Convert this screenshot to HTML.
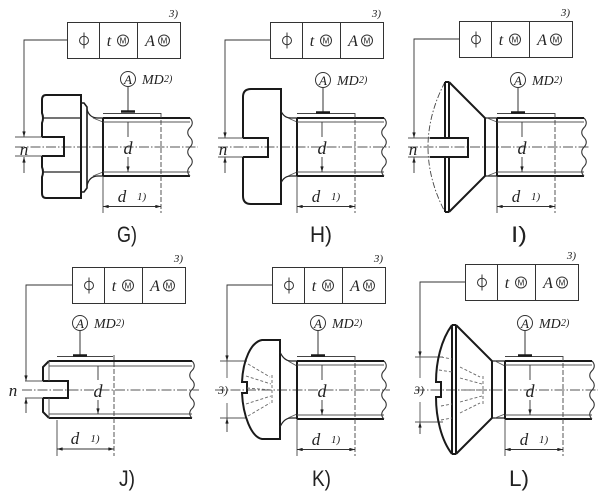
<!DOCTYPE html>
<html><head><meta charset="utf-8"><style>html,body{margin:0;padding:0;background:#fff}svg{display:block}</style></head>
<body>
<svg width="600" height="493" viewBox="0 0 600 493" xmlns="http://www.w3.org/2000/svg" xmlns:xlink="http://www.w3.org/1999/xlink">
<defs>
<marker id="a" viewBox="0 0 10 6" refX="10" refY="3" markerWidth="6" markerHeight="3.4" markerUnits="userSpaceOnUse" orient="auto-start-reverse"><path d="M0,0L10,3L0,6z" fill="#222"/></marker>
<g id="fr">
 <g fill="none" stroke="#333" stroke-width="1">
 <rect x="0.5" y="0.5" width="113" height="36"/>
 <path d="M32.5,0.5V36.5M70.5,0.5V36.5"/>
 <ellipse cx="17" cy="18.5" rx="4.5" ry="4.2"/>
 <path d="M17,10.5V26.5"/>
 <circle cx="56" cy="18.5" r="5.5"/>
 <circle cx="97" cy="18.5" r="5.5"/>
 </g>
 <g fill="#222" font-family="Liberation Serif, serif" font-style="italic" text-anchor="middle">
 <text x="42" y="24" font-size="16">t</text>
 <text x="83" y="24" font-size="16">A</text>
 <text x="111" y="-5" font-size="11" text-anchor="end">3)</text>
 </g>
 <g fill="#222" font-family="Liberation Sans, sans-serif" font-size="8" text-anchor="middle">
 <text x="56" y="21.5">M</text>
 <text x="97" y="21.5">M</text>
 </g>
</g>
<g id="dt">
 <circle cx="0" cy="0" r="7.5" fill="none" stroke="#333" stroke-width="1"/>
 <path d="M0,7.5V32" stroke="#333" stroke-width="1"/>
 <path d="M-7,32.5H7" stroke="#1a1a1a" stroke-width="2.5"/>
 <g fill="#222" font-family="Liberation Serif, serif" font-style="italic">
 <text x="0" y="4.8" font-size="13" text-anchor="middle">A</text>
 <text x="14" y="5" font-size="14">MD</text>
 <text x="36" y="3" font-size="10">2)</text>
 </g>
</g>
<g id="sh">
 <path d="M0,-29H87M0,29H87M0,-29V29" stroke="#1a1a1a" stroke-width="2" fill="none"/>
 <path d="M0,-25H87M0,25H87" stroke="#555" stroke-width="0.9" fill="none"/>
 <path d="M87,-29c3,3 3,6.7 0,9.7c-3,3 -3,6.7 0,9.7c3,3 3,6.7 0,9.7c-3,3 -3,6.7 0,9.7c3,3 3,6.7 0,9.7c-3,3 -3,6.7 0,9.5" stroke="#333" stroke-width="1.1" fill="none"/>
 <path d="M58,-34V66" stroke="#444" stroke-width="0.9" stroke-dasharray="5,2" fill="none"/>
 <path d="M0,29V66M0,-33.5H58" stroke="#444" stroke-width="0.9" fill="none"/>
 <path d="M25,-10V-25M25,10V25" stroke="#333" stroke-width="0.9" marker-end="url(#a)" fill="none"/>
 <path d="M0,59.5H58" stroke="#333" stroke-width="0.9" marker-start="url(#a)" marker-end="url(#a)" fill="none"/>
 <g fill="#222" font-family="Liberation Serif, serif" font-style="italic">
 <text x="25" y="7" font-size="18" text-anchor="middle">d</text>
 <text x="19" y="55" font-size="17" text-anchor="middle">d</text>
 <text x="34" y="53" font-size="11">1)</text>
 </g>
</g>
</defs>

<g fill="none" stroke-linecap="butt">
<!-- ============ G ============ -->
<use xlink:href="#fr" x="67" y="22"/>
<path d="M67,40H24V137" stroke="#333" stroke-width="0.9" marker-end="url(#a)"/>
<path d="M24,173V157" stroke="#333" stroke-width="0.9" marker-end="url(#a)"/>
<path d="M15,137H42M15,156H42" stroke="#555" stroke-width="0.9"/>
<path d="M15,147H198" stroke="#555" stroke-width="0.9" stroke-dasharray="10,2,1.5,2"/>
<path d="M42,137V123Q44,118 42,113V100Q42,95 46,95H81V198H46Q42,198 42,193V177Q44,172 42,167V156M42,137H64V156H42" stroke="#1a1a1a" stroke-width="2"/>
<path d="M42,118H81M42,172H81" stroke="#222" stroke-width="1.3"/>
<path d="M81,103H84L87,107V188L84,192H81" stroke="#1a1a1a" stroke-width="1.6"/>
<path d="M87,109Q89,118 98,118H103M87,186Q89,176 98,176H103" stroke="#222" stroke-width="1.2"/>
<path d="M93,118L103,122M93,176L103,172" stroke="#555" stroke-width="0.9"/>
<use xlink:href="#sh" x="103" y="147"/>
<use xlink:href="#dt" x="128" y="79"/>

<!-- ============ H ============ -->
<use xlink:href="#fr" x="270" y="22"/>
<path d="M270,40H225V138" stroke="#333" stroke-width="0.9" marker-end="url(#a)"/>
<path d="M225,173V157" stroke="#333" stroke-width="0.9" marker-end="url(#a)"/>
<path d="M218,138H243M218,157H243" stroke="#555" stroke-width="0.9"/>
<path d="M218,147H390" stroke="#555" stroke-width="0.9" stroke-dasharray="10,2,1.5,2"/>
<path d="M243,138V97Q243,89 251,89H281V204H251Q243,204 243,196V157M243,138H268V157H243" stroke="#1a1a1a" stroke-width="2"/>
<path d="M281,111Q284,118 291,118H297M281,183Q284,176 291,176H297" stroke="#222" stroke-width="1.2"/>
<path d="M288,118L297,122M288,176L297,172" stroke="#555" stroke-width="0.9"/>
<use xlink:href="#sh" x="297" y="147"/>
<use xlink:href="#dt" x="323" y="80"/>

<!-- ============ I ============ -->
<use xlink:href="#fr" x="459" y="21"/>
<path d="M459,39H414V138" stroke="#333" stroke-width="0.9" marker-end="url(#a)"/>
<path d="M414,173V157" stroke="#333" stroke-width="0.9" marker-end="url(#a)"/>
<path d="M408,138H430M408,157H430" stroke="#555" stroke-width="0.9"/>
<path d="M408,147H590" stroke="#555" stroke-width="0.9" stroke-dasharray="10,2,1.5,2"/>
<path d="M445,82Q411,147 445,212" stroke="#444" stroke-width="0.9" stroke-dasharray="6,2,1.5,2"/>
<path d="M445,82V138M445,157V212M449,82V138M449,157V212M445,82H449M445,212H449" stroke="#1a1a1a" stroke-width="2"/>
<path d="M449,82L485,118V176L449,212" stroke="#1a1a1a" stroke-width="2"/>
<path d="M430,138H468V157H430" stroke="#1a1a1a" stroke-width="2"/>
<path d="M485,118H497M485,176H497" stroke="#222" stroke-width="1.3"/>
<path d="M487,118L497,122M487,176L497,172" stroke="#555" stroke-width="0.9"/>
<use xlink:href="#sh" x="497" y="147"/>
<use xlink:href="#dt" x="518" y="80"/>

<!-- ============ J ============ -->
<use xlink:href="#fr" x="72" y="267"/>
<path d="M72,285H26V381" stroke="#333" stroke-width="0.9" marker-end="url(#a)"/>
<path d="M26,413V398" stroke="#333" stroke-width="0.9" marker-end="url(#a)"/>
<path d="M25,381H43M25,398H43" stroke="#555" stroke-width="0.9"/>
<path d="M22,390H199" stroke="#555" stroke-width="0.9" stroke-dasharray="10,2,1.5,2"/>
<path d="M49,361H192M49,418H192M43,381V367L49,361M43,398V412L49,418M43,381H68V398H43" stroke="#1a1a1a" stroke-width="2"/>
<path d="M49,366H192M49,414H192M49,361V381M49,398V418" stroke="#555" stroke-width="0.9"/>
<path d="M192,361c3,3 3,6.7 0,9.5c-3,3 -3,6.7 0,9.5c3,3 3,6.7 0,9.5c-3,3 -3,6.7 0,9.5c3,3 3,6.7 0,9.5c-3,3 -3,6.7 0,9.5" stroke="#333" stroke-width="1.1"/>
<path d="M114,355V456" stroke="#444" stroke-width="0.9" stroke-dasharray="5,2"/>
<path d="M57,420V456M57,356.5H113" stroke="#444" stroke-width="0.9"/>
<path d="M98,380V366M98,400V414" stroke="#333" stroke-width="0.9" marker-end="url(#a)"/>
<path d="M57,449H114" stroke="#333" stroke-width="0.9" marker-start="url(#a)" marker-end="url(#a)"/>
<use xlink:href="#dt" x="80" y="323"/>

<!-- ============ K ============ -->
<use xlink:href="#fr" x="272" y="267"/>
<path d="M272,285H227V361" stroke="#333" stroke-width="0.9" marker-end="url(#a)"/>
<path d="M227,432V418" stroke="#333" stroke-width="0.9" marker-end="url(#a)"/>
<path d="M227,361V378M227,403V418M220,361H247M220,418H247" stroke="#555" stroke-width="0.9"/>
<path d="M215,390H390" stroke="#555" stroke-width="0.9" stroke-dasharray="10,2,1.5,2"/>
<path d="M280,340H262C251,342 243,360 242,382H247V393H242C243,415 251,437 262,439H280Z" stroke="#1a1a1a" stroke-width="2"/>
<path d="M248,364L270,377M246,376L271,384M247,388L272,390M246,404L271,396M248,416L270,403M272,375V405" stroke="#666" stroke-width="0.9" stroke-dasharray="3,2"/>
<path d="M280,352Q284,361 291,361H297M280,427Q284,418 291,418H297" stroke="#222" stroke-width="1.2"/>
<path d="M288,361L297,366M288,418L297,414" stroke="#555" stroke-width="0.9"/>
<use xlink:href="#sh" x="297" y="390"/>
<use xlink:href="#dt" x="318" y="323"/>

<!-- ============ L ============ -->
<use xlink:href="#fr" x="465" y="264"/>
<path d="M465,282H420V357" stroke="#333" stroke-width="0.9" marker-end="url(#a)"/>
<path d="M420,434V422" stroke="#333" stroke-width="0.9" marker-end="url(#a)"/>
<path d="M420,357V378M420,402V422M415,357H443M415,422H443" stroke="#555" stroke-width="0.9"/>
<path d="M415,390H598" stroke="#555" stroke-width="0.9" stroke-dasharray="10,2,1.5,2"/>
<path d="M452,325V454M456,325V454M452,325H456M452,454H456" stroke="#1a1a1a" stroke-width="2"/>
<path d="M456,325L492,361V418L456,454" stroke="#1a1a1a" stroke-width="2"/>
<path d="M452,325C441,340 436,362 436,382H441V397H436C436,417 441,440 452,454" stroke="#1a1a1a" stroke-width="2"/>
<path d="M441,357L452,359M439,370L452,372M441,406L452,404M441,420L452,418M460,367L480,377M460,378L482,384M461,390L483,390M460,402L482,396M460,413L480,403M483,376V404" stroke="#666" stroke-width="0.9" stroke-dasharray="3,2"/>
<path d="M492,361H505M492,418H505" stroke="#222" stroke-width="1.3"/>
<path d="M495,361L505,366M495,418L505,414" stroke="#555" stroke-width="0.9"/>
<use xlink:href="#sh" x="505" y="390"/>
<use xlink:href="#dt" x="525" y="323"/>
</g>

<!-- texts -->
<g fill="#222" font-family="Liberation Serif, serif" font-style="italic" text-anchor="middle">
<text x="24" y="155" font-size="17">n</text>
<text x="223" y="155" font-size="17">n</text>
<text x="413" y="155" font-size="17">n</text>
<text x="13" y="396" font-size="17">n</text>
<text x="98" y="397" font-size="18">d</text>
<text x="75" y="444" font-size="17">d</text>
<text x="95" y="442" font-size="11">1)</text>
<text x="223" y="394" font-size="12">3)</text>
<text x="419" y="394" font-size="12">3)</text>
</g>
<g fill="#222" font-family="Liberation Sans, sans-serif" font-size="22">
<text x="117" y="242" textLength="20" lengthAdjust="spacingAndGlyphs">G)</text>
<text x="310" y="242" textLength="22" lengthAdjust="spacingAndGlyphs">H)</text>
<text x="511" y="242" textLength="16" lengthAdjust="spacingAndGlyphs">I)</text>
<text x="119" y="486" textLength="16" lengthAdjust="spacingAndGlyphs">J)</text>
<text x="312" y="486" textLength="19" lengthAdjust="spacingAndGlyphs">K)</text>
<text x="509" y="486" textLength="20" lengthAdjust="spacingAndGlyphs">L)</text>
</g>
</svg>
</body></html>
